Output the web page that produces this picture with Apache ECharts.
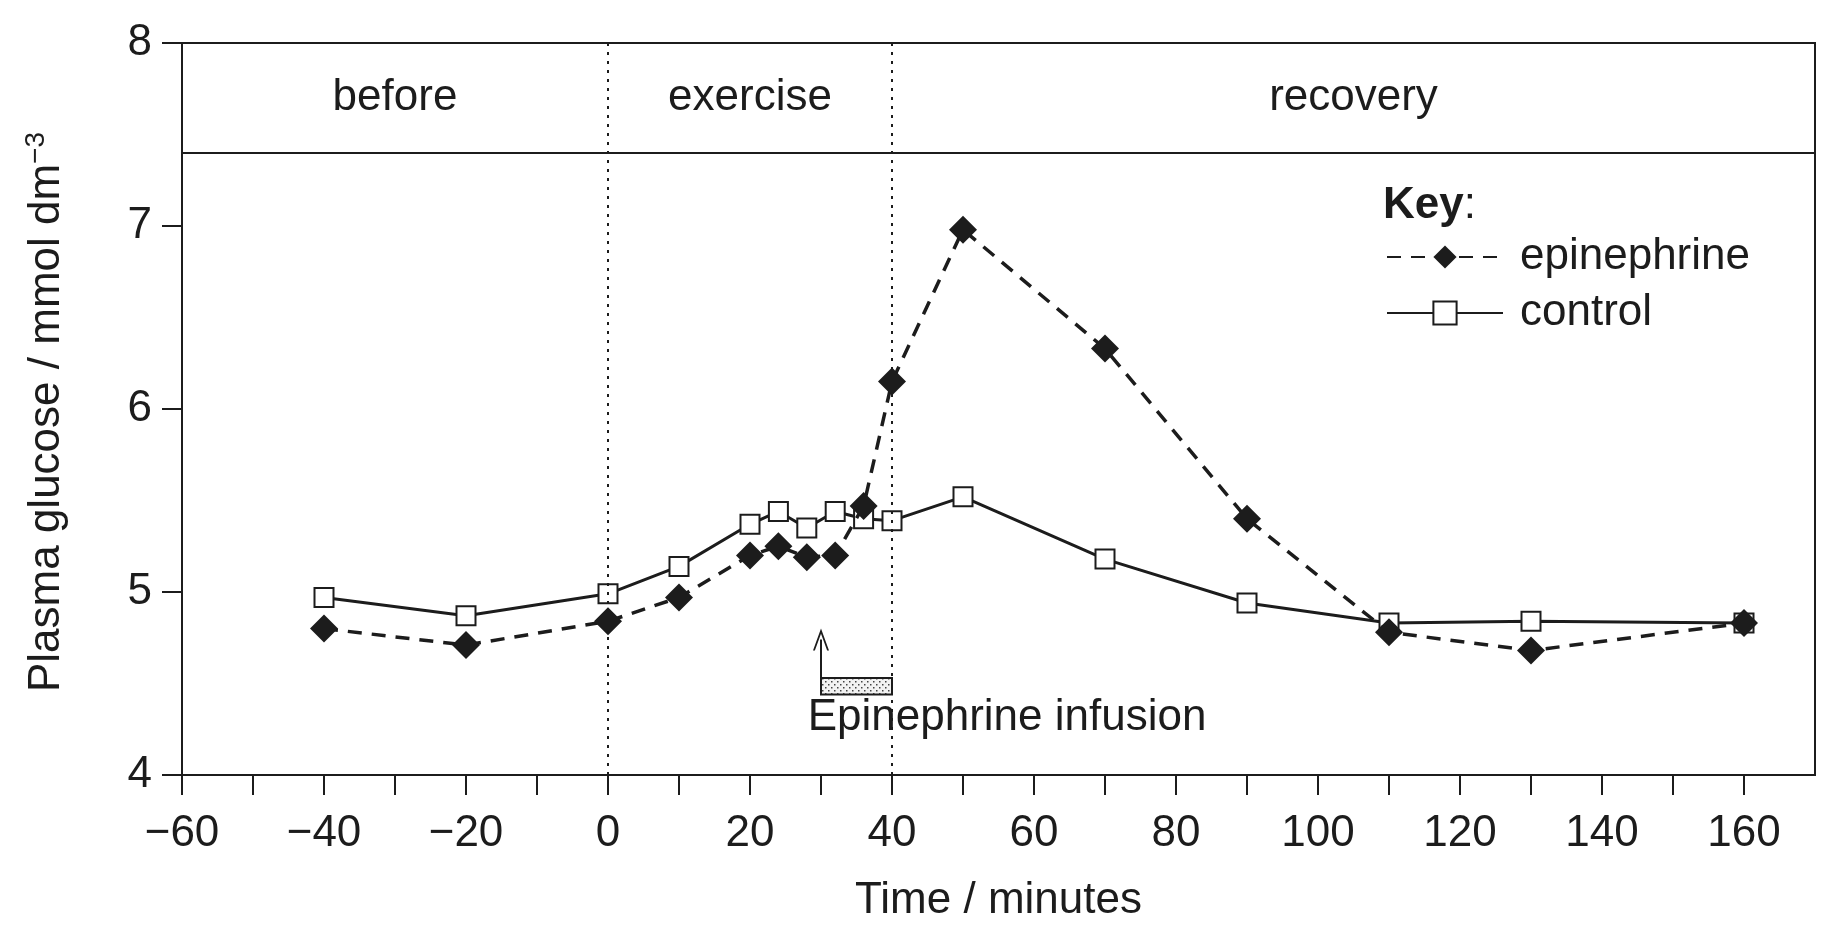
<!DOCTYPE html>
<html>
<head>
<meta charset="utf-8">
<script src="https://cdn.jsdelivr.net/npm/echarts@6/dist/echarts.min.js"></script>
<style>
html, body { margin: 0; padding: 0; background: #fff; }
#main { width: 1838px; height: 938px; }
</style>
</head>
<body>
<div id="main"></div>
<script>
// time in minutes, glucose in mmol dm-3
var timePoints = [-40, -20, 0, 10, 20, 24, 28, 32, 36, 40, 50, 70, 90, 110, 130, 160];
var epinephrine = [4.80, 4.71, 4.84, 4.97, 5.20, 5.25, 5.19, 5.20, 5.47, 6.15, 6.98, 6.33, 5.40, 4.78, 4.68, 4.83];
var control = [4.97, 4.87, 4.99, 5.14, 5.37, 5.44, 5.35, 5.44, 5.40, 5.39, 5.52, 5.18, 4.94, 4.83, 4.84, 4.83];

var xLabelValues = [-60, -40, -20, 0, 20, 40, 60, 80, 100, 120, 140, 160];
var xTickValues = [-60, -50, -40, -30, -20, -10, 0, 10, 20, 30, 40, 50, 60, 70, 80, 90, 100, 110, 120, 130, 140, 150, 160];
var phaseNames = ['before', 'exercise', 'recovery'];
var phaseEdges = [-60, 0, 40, 170];
var infusionStart = 30, infusionEnd = 40;

var FONT = 'Liberation Sans, Arial, Helvetica, sans-serif';
var INK = '#1c1c1c';

function pairs(xs, ys) {
    var out = [];
    for (var i = 0; i < xs.length; i++) out.push([xs[i], ys[i]]);
    return out;
}

// dotted fill for the infusion bar
var pat = document.createElement('canvas');
pat.width = 6; pat.height = 6;
var pctx = pat.getContext('2d');
pctx.fillStyle = '#f2f2f2';
pctx.fillRect(0, 0, 6, 6);
pctx.fillStyle = '#444';
pctx.fillRect(0, 0, 1.5, 1.5);
pctx.fillRect(3, 3, 1.5, 1.5);

var phaseAreas = [];
for (var i = 0; i < phaseNames.length; i++) {
    phaseAreas.push([
        { xAxis: phaseEdges[i], yAxis: 7.4, name: phaseNames[i] },
        { xAxis: phaseEdges[i + 1], yAxis: 8 }
    ]);
}

var myChart = echarts.init(document.getElementById('main'));

var option = {
    animation: false,
    backgroundColor: '#fff',
    textStyle: { fontFamily: FONT, color: INK },
    grid: {
        left: 182, right: 23, top: 43, bottom: 163,
        show: true, borderColor: INK, borderWidth: 2, backgroundColor: 'transparent'
    },
    xAxis: {
        type: 'value', min: -60, max: 170, interval: 20,
        name: 'Time / minutes', nameLocation: 'middle', nameGap: 104,
        nameTextStyle: { fontSize: 44, color: INK, fontFamily: FONT },
        axisLine: { onZero: false, lineStyle: { color: INK, width: 2 } },
        axisTick: { show: true, inside: false, length: 20, lineStyle: { color: INK, width: 2 }, customValues: xTickValues },
        axisLabel: {
            fontSize: 44, color: INK, margin: 37, fontFamily: FONT,
            customValues: xLabelValues,
            formatter: function (v) { return String(v).replace('-', '\u2212'); }
        },
        splitLine: { show: false }
    },
    yAxis: {
        type: 'value', min: 4, max: 8, interval: 1,
        axisLine: { show: true, onZero: false, lineStyle: { color: INK, width: 2 } },
        axisTick: { show: true, inside: false, length: 20, lineStyle: { color: INK, width: 2 } },
        axisLabel: { fontSize: 44, color: INK, margin: 30, fontFamily: FONT },
        splitLine: { show: false }
    },
    legend: {
        data: ['epinephrine', 'control'],
        orient: 'vertical', left: 1381, top: 230,
        itemWidth: 116, itemHeight: 29, itemGap: 12,
        textStyle: { fontSize: 44, color: INK, fontFamily: FONT, padding: [0, 0, 0, 12] }
    },
    graphic: [
        {
            type: 'text', left: 1383, top: 184,
            style: {
                text: '{b|Key}{n|:}',
                rich: {
                    b: { fontSize: 44, fontWeight: 'bold', fontFamily: FONT, fill: INK },
                    n: { fontSize: 44, fontFamily: FONT, fill: INK }
                }
            }
        },
        {
            type: 'text', x: 47, y: 412, rotation: Math.PI / 2,
            style: {
                text: '{m|Plasma glucose / mmol dm}{s|\u22123}',
                align: 'center', verticalAlign: 'middle',
                rich: {
                    m: { fontSize: 44, fontFamily: FONT, fill: INK, lineHeight: 50 },
                    s: { fontSize: 28, fontFamily: FONT, fill: INK, verticalAlign: 'top', lineHeight: 50, padding: [0, 0, 18, 0] }
                }
            }
        }
    ],
    series: [
        {
            name: 'control',
            type: 'line',
            data: pairs(timePoints, control),
            symbol: 'rect', symbolSize: 19,
            itemStyle: { color: '#fff', borderColor: INK, borderWidth: 2 },
            lineStyle: { color: INK, width: 3 },
            z: 3,
            markLine: {
                silent: true, symbol: 'none',
                label: { show: false },
                data: [
                    { xAxis: 0, lineStyle: { type: [3, 6], width: 2, color: INK } },
                    { xAxis: 40, lineStyle: { type: [3, 6], width: 2, color: INK } },
                    { yAxis: 7.4, lineStyle: { type: 'solid', width: 2, color: INK } },
                    [
                        { coord: [infusionStart, 4.53], symbol: 'none' },
                        {
                            coord: [infusionStart, 4.74],
                            symbol: 'path://M0,12 L6,0 L12,12 L10.6,12 L6,2.8 L1.4,12 Z',
                            symbolSize: [16, 22],
                            lineStyle: { type: 'solid', width: 2, color: INK }
                        }
                    ]
                ],
                lineStyle: { color: INK, width: 2, type: 'solid' }
            },
            markArea: {
                silent: true,
                itemStyle: { color: 'transparent' },
                label: { show: true, position: 'inside', fontSize: 44, color: INK, fontFamily: FONT },
                data: phaseAreas.concat([[
                    {
                        xAxis: infusionStart, yAxis: 4.44,
                        itemStyle: { color: { image: pat, repeat: 'repeat' }, borderColor: INK, borderWidth: 2 },
                        label: { show: false }
                    },
                    { xAxis: infusionEnd, yAxis: 4.53 }
                ]])
            },
            markPoint: {
                silent: true,
                symbol: 'rect', symbolSize: 1,
                itemStyle: { color: 'transparent' },
                data: [{
                    coord: [56.2, 4.31],
                    label: { show: true, position: 'inside', formatter: 'Epinephrine infusion', fontSize: 44, color: INK, fontFamily: FONT }
                }]
            }
        },
        {
            name: 'epinephrine',
            type: 'line',
            data: pairs(timePoints, epinephrine),
            symbol: 'diamond', symbolSize: 28,
            itemStyle: { color: INK },
            lineStyle: { color: INK, width: 3.5, type: [14, 10] },
            z: 4
        }
    ]
};

myChart.setOption(option);
</script>
</body>
</html>
